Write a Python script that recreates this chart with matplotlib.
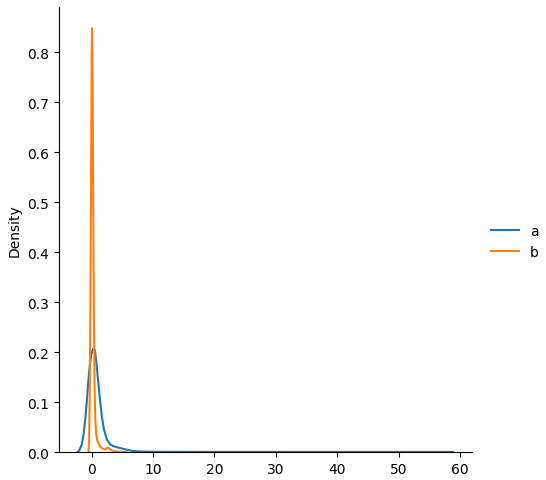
import numpy as np
import matplotlib
matplotlib.use("Agg")
import matplotlib.pyplot as plt

# KDE-Kurven (x, Dichte)
a_x = [-2.25, -2.0, -1.6, -1.3, -1.0, -0.75, -0.5, -0.25, 0.0, 0.3, 0.55, 0.8, 1.1, 1.4,
       1.7, 2.0, 2.5, 3.0, 3.5, 4.5, 5.5, 6.5, 7.5, 9.0, 12.0, 16.0, 20.0, 30.0, 40.0, 50.0, 58.85]
a_y = [0.0005, 0.003, 0.015, 0.035, 0.068, 0.105, 0.145, 0.178, 0.198, 0.207, 0.204, 0.178,
       0.140, 0.102, 0.070, 0.047, 0.025, 0.016, 0.012, 0.0085, 0.0055, 0.0028, 0.0014, 0.0008,
       0.0006, 0.0005, 0.0004, 0.0004, 0.0003, 0.0003, 0.0003]

b_x = [-0.5, -0.4, -0.3, -0.18, -0.06, 0.03, 0.08, 0.14, 0.22, 0.3, 0.4, 0.5, 0.62, 0.75,
       0.9, 1.1, 1.4, 1.8, 2.2, 2.5, 2.7, 2.9, 3.2, 3.6, 4.2, 5.0, 5.8]
b_y = [0.0, 0.02, 0.1, 0.3, 0.58, 0.79, 0.848, 0.80, 0.64, 0.45, 0.26, 0.13, 0.065, 0.038,
       0.026, 0.018, 0.011, 0.007, 0.005, 0.008, 0.009, 0.007, 0.004, 0.002, 0.001, 0.0004, 0.0]

labels = ["a", "b"]
colors = ["#1f77b4", "#ff7f0e"]

fig = plt.figure(figsize=(5.46, 4.81), dpi=100)
ax = fig.add_axes([0.108, 0.058, 0.756, 0.925])

ax.plot(a_x, a_y, color=colors[0], lw=1.5, label=labels[0])
ax.plot(b_x, b_y, color=colors[1], lw=1.5, label=labels[1])

ax.set_xlim(-5.3, 61.9)
ax.set_ylim(0, 0.8904)
ax.set_xticks(np.arange(0, 61, 10))
ax.set_yticks(np.arange(0, 0.81, 0.1))
ax.set_ylabel("Density")
ax.spines["top"].set_visible(False)
ax.spines["right"].set_visible(False)

fig.legend(loc="center left", bbox_to_anchor=(0.876, 0.496), frameon=False)

fig.savefig("out.png", dpi=100)
